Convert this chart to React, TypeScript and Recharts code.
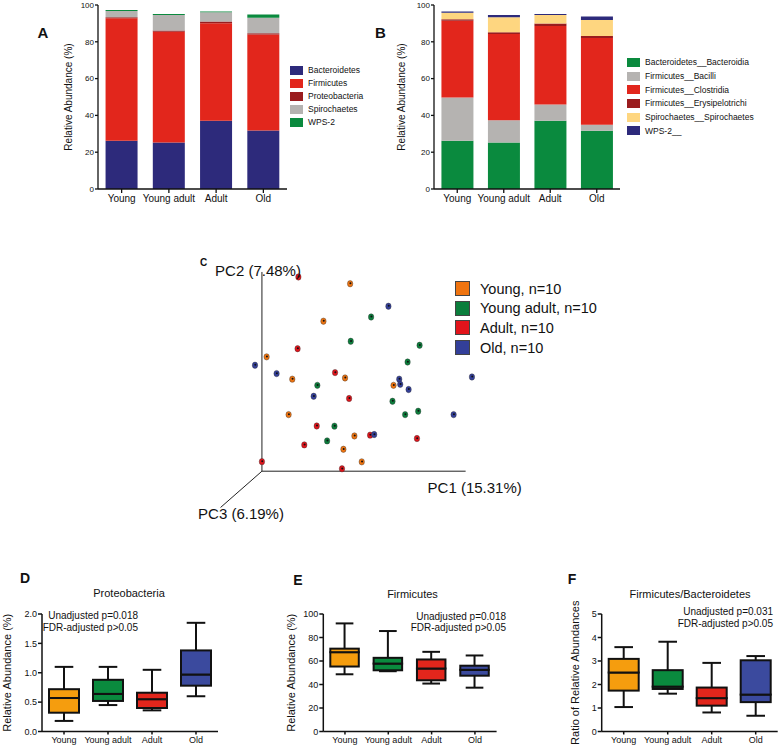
import React from "react";
import {
  BarChart,
  Bar,
  XAxis,
  YAxis,
  Legend,
  ScatterChart,
  Scatter,
  ReferenceLine,
  ComposedChart,
  Cell,
} from "recharts";

const FONT = '"Liberation Sans", Arial, Helvetica, sans-serif';
const INK = "#111";

const groups = ["Young", "Young adult", "Adult", "Old"];

// A: phylum level relative abundance (%)
const phylumNames = ["Bacteroidetes", "Firmicutes", "Proteobacteria", "Spirochaetes", "WPS-2"];
const bacteroidetes = [26.2, 25.3, 37.1, 31.8];
const firmicutes = [66.6, 60.2, 53.0, 52.1];
const proteobacteria = [0.5, 0.6, 0.9, 0.7];
const spirochaetes = [3.4, 8.5, 5.0, 8.5];
const wps2 = [0.6, 0.5, 0.4, 1.8];

// B: class level relative abundance (%)
const classNames = [
  "Bacteroidetes__Bacteroidia",
  "Firmicutes__Bacilli",
  "Firmicutes__Clostridia",
  "Firmicutes__Erysipelotrichi",
  "Spirochaetes__Spirochaetes",
  "WPS-2__",
];
const bacteroidia = [26.2, 25.3, 37.1, 31.6];
const bacilli = [23.5, 12.0, 8.8, 3.3];
const clostridia = [41.8, 47.0, 42.7, 47.2];
const erysipelotrichi = [0.7, 0.9, 1.3, 1.1];
const spirochaetesClass = [3.6, 8.1, 4.7, 8.7];
const wps2Class = [0.6, 1.3, 0.5, 1.8];

// C: PCoA, projected PC1 / PC2 positions
const pcoaNames = ["Young, n=10", "Young adult, n=10", "Adult, n=10", "Old, n=10"];
const pcYoung = [
  { x: 43.3, y: 94.1 }, { x: 30.2, y: 75.3 }, { x: 2.3, y: 57.4 }, { x: 14.9, y: 46.2 },
  { x: 40.8, y: 46.8 }, { x: 64.6, y: 43.1 }, { x: 13.1, y: 28.4 }, { x: 45.4, y: 17.7 },
  { x: 40.0, y: 11.0 }, { x: 49.0, y: 4.7 },
];
const pcYoungAdult = [
  { x: 53.6, y: 77.4 }, { x: 43.6, y: 65.2 }, { x: 77.4, y: 63.2 }, { x: 71.5, y: 54.8 },
  { x: 27.2, y: 43.1 }, { x: 64.1, y: 35.1 }, { x: 70.3, y: 28.4 }, { x: 76.7, y: 30.1 },
  { x: 35.6, y: 22.6 }, { x: 32.0, y: 15.2 },
];
const pcAdult = [
  { x: 17.9, y: 97.5 }, { x: 17.5, y: 61.5 }, { x: 35.9, y: 49.5 }, { x: 42.8, y: 36.5 },
  { x: 26.9, y: 22.7 }, { x: 53.1, y: 18.1 }, { x: 76.1, y: 16.4 }, { x: 20.8, y: 13.2 },
  { x: 0.0, y: 4.8 }, { x: 39.3, y: 1.2 },
];
const pcOld = [
  { x: 62.1, y: 82.8 }, { x: -3.4, y: 53.2 }, { x: 7.2, y: 49.0 }, { x: 67.4, y: 46.2 },
  { x: 67.9, y: 43.6 }, { x: 72.0, y: 41.0 }, { x: 103.1, y: 47.3 }, { x: 25.4, y: 37.6 },
  { x: 94.1, y: 28.4 }, { x: 55.1, y: 18.4 },
];

// D-F: box stats per group [min, q1, median, q3, max]
const proteoBoxes = [
  [0.18, 0.32, 0.57, 0.72, 1.1],
  [0.45, 0.52, 0.64, 0.88, 1.1],
  [0.36, 0.4, 0.55, 0.66, 1.05],
  [0.6, 0.78, 0.97, 1.38, 1.85],
];
const firmBoxes = [
  [48.7, 55.3, 67.5, 70.5, 92.0],
  [51.3, 52.1, 57.8, 62.7, 85.5],
  [40.8, 43.6, 53.6, 61.3, 67.8],
  [37.3, 47.5, 52.5, 56.0, 64.7],
];
const ratioBoxes = [
  [1.04, 1.74, 2.51, 3.09, 3.59],
  [1.61, 1.81, 1.91, 2.61, 3.82],
  [0.81, 1.1, 1.42, 1.87, 2.92],
  [0.67, 1.25, 1.57, 3.03, 3.21],
];

const phylumColors = ["#2d2a7b", "#e2261c", "#9a1c1e", "#b5b3b1", "#0a8a3e"];
const classColors = ["#0a8a3e", "#b5b3b1", "#e2261c", "#9a1c1e", "#fed680", "#2d2a7b"];
const pcoaColors = ["#ef7410", "#0b7e3c", "#e2141b", "#333f99"];
const boxColors = ["#f59d0e", "#0a8a3e", "#e2261c", "#3b4a9e"];

const axisStyle = { stroke: INK, strokeWidth: 1.3 };

const Txt = ({ x, y, size, bold, align = "center", children }: any) => (
  <div
    style={{
      position: "absolute",
      left: x,
      top: y,
      transform: `translate(${align === "center" ? "-50%" : align === "right" ? "-100%" : "0"}, -50%)`,
      fontSize: size,
      fontWeight: bold ? 700 : 400,
      whiteSpace: "nowrap",
      lineHeight: 1,
      color: INK,
    }}
  >
    {children}
  </div>
);

const LegendList = ({ names, colors, swW, swH, rowH, fontSize, gap, border }: any) => (
  <div style={{ fontFamily: FONT }}>
    {names.map((n: string, i: number) => (
      <div key={n} style={{ display: "flex", alignItems: "center", height: rowH }}>
        <span
          style={{
            display: "inline-block",
            width: swW,
            height: swH,
            background: colors[i],
            boxSizing: "border-box",
            border: border ? "1px solid #444" : "none",
            marginRight: gap,
          }}
        />
        <span style={{ fontSize, color: INK, whiteSpace: "nowrap" }}>{n}</span>
      </div>
    ))}
  </div>
);

function StackedPanel({ left, values, names, colors, plotLeft, plotRight, labelX, legendLeft, legendTop, rowH }: any) {
  const data = groups.map((g, i) => {
    const row: any = { group: g };
    values.forEach((s: number[], k: number) => (row["s" + k] = s[i]));
    return row;
  });
  const mLeft = plotLeft - 30;
  return (
    <div style={{ position: "absolute", left, top: 0 }}>
      <BarChart
        width={390}
        height={215}
        data={data}
        margin={{ top: 5, right: 390 - plotRight, bottom: 6, left: mLeft }}
        barCategoryGap="16%"
      >
        <XAxis
          dataKey="group"
          interval={0}
          height={20}
          tick={{ fontSize: 10, fill: INK, fontFamily: FONT }}
          tickSize={4}
          tickMargin={2}
          axisLine={axisStyle}
          tickLine={axisStyle}
        />
        <YAxis
          width={30}
          domain={[0, 100]}
          ticks={[0, 20, 40, 60, 80, 100]}
          tick={{ fontSize: 8, fill: INK, fontFamily: FONT }}
          tickSize={3}
          tickMargin={1}
          axisLine={axisStyle}
          tickLine={axisStyle}
          label={{
            value: "Relative Abundance (%)",
            angle: -90,
            position: "insideLeft",
            offset: labelX - mLeft,
            style: { textAnchor: "middle", fontSize: 10, fill: INK, fontFamily: FONT },
          }}
        />
        {names.map((n: string, k: number) => (
          <Bar key={n} dataKey={"s" + k} name={n} stackId="a" fill={colors[k]} isAnimationActive={false} />
        ))}
        <Legend
          layout="horizontal"
          verticalAlign="middle"
          align="center"
          wrapperStyle={{ left: legendLeft, top: legendTop, width: "auto", height: "auto" }}
          content={() => (
            <LegendList names={names} colors={colors} swW={13} swH={9} rowH={rowH} fontSize={8.5} gap={5} />
          )}
        />
      </BarChart>
    </div>
  );
}

const dotShape = (color: string) => (props: any) => {
  const { cx, cy } = props;
  return (
    <g>
      <ellipse cx={cx} cy={cy} rx={2.7} ry={3.2} fill={color} stroke="#333" strokeWidth={0.4} />
      <circle cx={cx + 0.3} cy={cy - 0.4} r={1} fill="#111" />
    </g>
  );
};

function PcoaPanel() {
  const sets = [pcYoung, pcYoungAdult, pcAdult, pcOld];
  return (
    <div style={{ position: "absolute", left: 211, top: 268 }}>
      <ScatterChart width={370} height={253} margin={{ top: 0, right: 95, bottom: 0, left: 0 }}>
        <XAxis type="number" dataKey="x" domain={[-25, 110]} hide />
        <YAxis type="number" dataKey="y" domain={[-25, 102]} hide />
        <ReferenceLine segment={[{ x: 0, y: 0 }, { x: 0, y: 100 }]} stroke="#222" strokeWidth={1} ifOverflow="visible" />
        <ReferenceLine segment={[{ x: 0, y: 0 }, { x: 100, y: 0 }]} stroke="#222" strokeWidth={1} ifOverflow="visible" />
        <ReferenceLine segment={[{ x: 0, y: 0 }, { x: -20.3, y: -18.2 }]} stroke="#222" strokeWidth={1} ifOverflow="visible" />
        {sets.map((s, i) => (
          <Scatter key={pcoaNames[i]} name={pcoaNames[i]} data={s} fill={pcoaColors[i]} shape={dotShape(pcoaColors[i])} isAnimationActive={false} />
        ))}
        <Legend
          layout="horizontal"
          verticalAlign="middle"
          align="center"
          wrapperStyle={{ left: 244, top: 11, width: "auto", height: "auto" }}
          content={() => (
            <LegendList names={pcoaNames} colors={pcoaColors} swW={15} swH={15} rowH={19.6} fontSize={14.5} gap={10} border />
          )}
        />
      </ScatterChart>
    </div>
  );
}

const whisker = (atTop: boolean) => (props: any) => {
  const { x, y, width, height } = props;
  const cx = x + width / 2;
  const capY = atTop ? y : y + height;
  const cw = width * 0.31;
  return (
    <g>
      <line x1={cx} x2={cx} y1={y} y2={y + height} stroke={INK} strokeWidth={2} />
      <line x1={cx - cw} x2={cx + cw} y1={capY} y2={capY} stroke={INK} strokeWidth={2} />
    </g>
  );
};

const boxRect = (props: any) => {
  const { x, y, width, height, fill } = props;
  return <rect x={x} y={y} width={width} height={height} fill={fill} stroke={INK} strokeWidth={2} />;
};

function BoxPanel({ left, boxes, domain, ticks, fmt, yLabel, plotLeft, plotRight, labelX, barSize }: any) {
  const data = boxes.map((b: number[], i: number) => ({
    group: groups[i],
    base: b[0],
    lw: b[1] - b[0],
    lb: b[2] - b[1],
    hb: b[3] - b[2],
    hw: b[4] - b[3],
  }));
  const mLeft = plotLeft - 30;
  return (
    <div style={{ position: "absolute", left, top: 540 }}>
      <ComposedChart
        width={260}
        height={208}
        data={data}
        margin={{ top: 74, right: 260 - plotRight, bottom: 2.5, left: mLeft }}
      >
        <XAxis
          dataKey="group"
          interval={0}
          height={14}
          tick={{ fontSize: 9, fill: INK, fontFamily: FONT }}
          tickSize={3}
          tickMargin={2}
          axisLine={{ stroke: INK, strokeWidth: 1.5 }}
          tickLine={{ stroke: INK, strokeWidth: 1.5 }}
        />
        <YAxis
          width={30}
          domain={domain}
          ticks={ticks}
          tickFormatter={fmt}
          tick={{ fontSize: 9, fill: INK, fontFamily: FONT }}
          tickSize={4}
          tickMargin={1}
          axisLine={{ stroke: INK, strokeWidth: 1.5 }}
          tickLine={{ stroke: INK, strokeWidth: 1.5 }}
          label={{
            value: yLabel,
            angle: -90,
            position: "insideLeft",
            offset: labelX - mLeft,
            style: { textAnchor: "middle", fontSize: 11, fill: INK, fontFamily: FONT },
          }}
        />
        <Bar dataKey="base" stackId="b" fill="none" barSize={barSize} isAnimationActive={false} />
        <Bar dataKey="lw" stackId="b" barSize={barSize} shape={whisker(false)} isAnimationActive={false} />
        <Bar dataKey="lb" stackId="b" barSize={barSize} shape={boxRect} isAnimationActive={false}>
          {data.map((_: any, i: number) => (
            <Cell key={i} fill={boxColors[i]} />
          ))}
        </Bar>
        <Bar dataKey="hb" stackId="b" barSize={barSize} shape={boxRect} isAnimationActive={false}>
          {data.map((_: any, i: number) => (
            <Cell key={i} fill={boxColors[i]} />
          ))}
        </Bar>
        <Bar dataKey="hw" stackId="b" barSize={barSize} shape={whisker(true)} isAnimationActive={false} />
      </ComposedChart>
    </div>
  );
}

export default function App() {
  return (
    <div
      style={{
        position: "absolute",
        left: 0,
        top: 0,
        width: 780,
        height: 748,
        background: "#fff",
        fontFamily: FONT,
        overflow: "hidden",
      }}
    >
      <StackedPanel
        left={0}
        values={[bacteroidetes, firmicutes, proteobacteria, spirochaetes, wps2]}
        names={phylumNames}
        colors={phylumColors}
        plotLeft={98}
        plotRight={287}
        labelX={68}
        legendLeft={290}
        legendTop={63.5}
        rowH={13}
      />
      <StackedPanel
        left={390}
        values={[bacteroidia, bacilli, clostridia, erysipelotrichi, spirochaetesClass, wps2Class]}
        names={classNames}
        colors={classColors}
        plotLeft={44}
        plotRight={230}
        labelX={11.7}
        legendLeft={237}
        legendTop={55.5}
        rowH={13.7}
      />
      <Txt x={43} y={32} size={15} bold>A</Txt>
      <Txt x={380.5} y={32} size={15} bold>B</Txt>

      <PcoaPanel />
      <Txt x={203.5} y={263} size={10} bold>C</Txt>
      <Txt x={258} y={270} size={15}>PC2 (7.48%)</Txt>
      <Txt x={474.7} y={487} size={15}>PC1 (15.31%)</Txt>
      <Txt x={241} y={513} size={15}>PC3 (6.19%)</Txt>

      <BoxPanel
        left={0}
        boxes={proteoBoxes}
        domain={[0, 2]}
        ticks={[0, 0.5, 1, 1.5, 2]}
        fmt={(v: number) => v.toFixed(1)}
        yLabel="Relative Abundance (%)"
        plotLeft={42}
        plotRight={218}
        labelX={7.5}
        barSize={30}
      />
      <BoxPanel
        left={260}
        boxes={firmBoxes}
        domain={[0, 100]}
        ticks={[0, 20, 40, 60, 80, 100]}
        fmt={(v: number) => String(v)}
        yLabel="Relative Abundance (%)"
        plotLeft={63.3}
        plotRight={236.6}
        labelX={31}
        barSize={28.5}
      />
      <BoxPanel
        left={520}
        boxes={ratioBoxes}
        domain={[0, 5]}
        ticks={[0, 1, 2, 3, 4, 5]}
        fmt={(v: number) => String(v)}
        yLabel="Ratio of Relative Abundances"
        plotLeft={81.7}
        plotRight={257.7}
        labelX={55}
        barSize={30}
      />
      <Txt x={25} y={578} size={14} bold>D</Txt>
      <Txt x={298} y={580} size={14} bold>E</Txt>
      <Txt x={572} y={579} size={14} bold>F</Txt>
      <Txt x={129} y={593} size={11}>Proteobacteria</Txt>
      <Txt x={412.5} y={594} size={11}>Firmicutes</Txt>
      <Txt x={690} y={594} size={11}>Firmicutes/Bacteroidetes</Txt>
      <Txt x={138} y={615.7} size={10} align="right">Unadjusted p=0.018</Txt>
      <Txt x={138} y={628} size={10} align="right">FDR-adjusted p&gt;0.05</Txt>
      <Txt x={506} y={616.7} size={10} align="right">Unadjusted p=0.018</Txt>
      <Txt x={506} y={628.3} size={10} align="right">FDR-adjusted p&gt;0.05</Txt>
      <Txt x={773} y={612} size={10} align="right">Unadjusted p=0.031</Txt>
      <Txt x={773} y={623.5} size={10} align="right">FDR-adjusted p&gt;0.05</Txt>
    </div>
  );
}
